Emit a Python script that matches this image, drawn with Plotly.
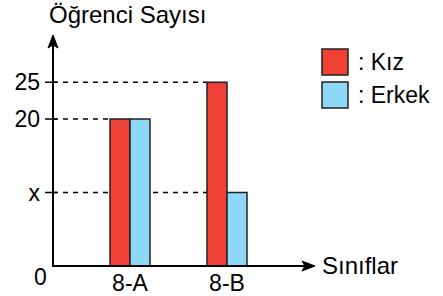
import plotly.graph_objects as go

W, H = 443, 296

# ---- data ----
classes = ["8-A", "8-B"]
kiz = [20, 25]
erkek = [20, 10]          # 8-B boys = x
ytick_vals = [10, 20, 25]
ytick_text = ["x", "20", "25"]
series_names = ["Kız", "Erkek"]
colors = ["#EF4136", "#8DD8F7"]

FONT = "Arial, Liberation Sans, sans-serif"

def fx(px):
    return px / W

def fy(py):
    return 1 - py / H

# plot area in pixels
X0, X1 = 53, 315      # y-axis position, x arrow tip
Y0, Y1 = 266, 35      # x-axis position, y arrow tip
cat_px = 97           # pixels per category
c0_px = 130           # centre of first category
xr = [(X0 - c0_px) / cat_px, len(classes) - 1 + (X1 - (c0_px + cat_px)) / cat_px]
px_per_unit = 7.35
yr = [0, (Y0 - Y1) / px_per_unit]
group_w = 40 / cat_px
bargap = 1 - group_w

fig = go.Figure()
for name, vals, col in zip(series_names, [kiz, erkek], colors):
    fig.add_trace(go.Bar(
        x=classes, y=vals, name=name,
        marker=dict(color=col, line=dict(color="#222222", width=1.5)),
        showlegend=False,
    ))

fig.update_layout(
    width=W, height=H,
    margin=dict(l=0, r=0, t=0, b=0, autoexpand=False),
    plot_bgcolor="white", paper_bgcolor="white",
    barmode="group", bargap=bargap, bargroupgap=0,
    font=dict(family=FONT, size=23, color="black"),
    xaxis=dict(
        domain=[fx(X0), fx(X1)], range=xr, showgrid=False, zeroline=False, automargin=False,
        showline=False, ticks="", tickfont=dict(size=23), ticklabelstandoff=1,
    ),
    yaxis=dict(
        domain=[fy(Y0), fy(Y1)], range=yr, showgrid=False, zeroline=False, automargin=False,
        showline=False, tickvals=ytick_vals, ticktext=ytick_text,
        ticks="", tickfont=dict(size=23), ticklabelstandoff=12,
    ),
)

shapes = []
# dashed guide lines (drawn below bars)
def bar_left(ci, si):
    return ci - group_w / 2 + si * group_w / 2

guides = [
    (kiz[1], bar_left(1, 0)),
    (kiz[0], bar_left(0, 0)),
    (erkek[1], bar_left(1, 0)),
]
for val, xend in guides:
    shapes.append(dict(type="line", xref="x", yref="y", x0=xr[0], x1=xend, y0=val, y1=val,
                       line=dict(color="black", width=1.5, dash="5px,5px"), layer="below"))
# tick crosses on y axis
for v in ytick_vals:
    shapes.append(dict(type="line", xref="paper", yref="y", x0=fx(X0 - 8), x1=fx(X0 + 4),
                       y0=v, y1=v, line=dict(color="black", width=1.5)))
# axes
shapes.append(dict(type="line", xref="paper", yref="paper", x0=fx(X0), x1=fx(X0),
                   y0=fy(Y0 + 1), y1=fy(Y1 + 8), line=dict(color="black", width=2)))
shapes.append(dict(type="line", xref="paper", yref="paper", x0=fx(X0 - 1), x1=fx(X1 - 8),
                   y0=fy(Y0), y1=fy(Y0), line=dict(color="black", width=2)))
# arrow heads (pixel path)
def path_px(pts):
    s = "M " + " L ".join(f"{fx(a)},{fy(b)}" for a, b in pts) + " Z"
    return s
shapes.append(dict(type="path", xref="paper", yref="paper",
                   path=path_px([(X0, Y1), (X0 - 5, Y1 + 13), (X0, Y1 + 10), (X0 + 5, Y1 + 13)]),
                   fillcolor="black", line=dict(color="black", width=1)))
shapes.append(dict(type="path", xref="paper", yref="paper",
                   path=path_px([(X1, Y0), (X1 - 13, Y0 - 5), (X1 - 10, Y0), (X1 - 13, Y0 + 5)]),
                   fillcolor="black", line=dict(color="black", width=1)))
# legend boxes
for i, col in enumerate(colors):
    top = 49 + i * 33
    shapes.append(dict(type="rect", xref="paper", yref="paper",
                       x0=fx(322), x1=fx(348), y0=fy(top + 26), y1=fy(top),
                       fillcolor=col, line=dict(color="#222222", width=1.5)))
fig.update_layout(shapes=shapes)

ann = []
ann.append(dict(text="Öğrenci Sayısı", xref="paper", yref="paper", x=fx(47), y=fy(15),
                xanchor="left", yanchor="middle", showarrow=False, font=dict(size=24)))
ann.append(dict(text="Sınıflar", xref="paper", yref="paper", x=fx(320), y=fy(265),
                xanchor="left", yanchor="middle", showarrow=False, font=dict(size=24)))
ann.append(dict(text="0", xref="paper", yref="paper", x=fx(40), y=fy(277),
                xanchor="center", yanchor="middle", showarrow=False, font=dict(size=23)))
for i, name in enumerate(series_names):
    ann.append(dict(text=": " + name, xref="paper", yref="paper", x=fx(356), y=fy(62 + i * 33),
                    xanchor="left", yanchor="middle", showarrow=False, font=dict(size=23)))
fig.update_layout(annotations=ann)

fig.write_html("out.html", config={"displayModeBar": False},
               post_script="document.body.style.margin='0';document.body.style.padding='0';")
